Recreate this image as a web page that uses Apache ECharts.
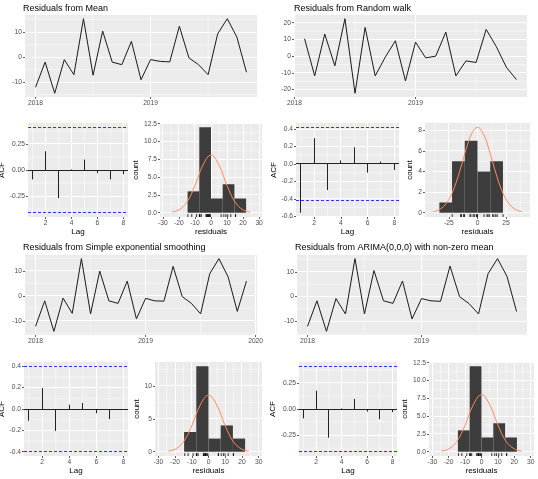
<!DOCTYPE html>
<html>
<head>
<meta charset="utf-8">
<title>Residual checks</title>
<style>
  html, body { margin: 0; padding: 0; background: #fff; }
  #box { width: 538px; height: 479px; }
</style>
</head>
<body>
<div id="box"></div>
<script src="https://cdn.jsdelivr.net/npm/echarts@6/dist/echarts.min.js"></script>
<script>
// monthly residuals, start = months after Jan 2018
var meanStart = 0;
var meanResid = [-12, -2, -14.4, -1, -7, 15.3, -7.2, 10.4, -2, -3, 6.3, -9, -1, -1.7, -1.9, 12.3, -0.3, -3, -7, 9.3, 15.3, 8, -6];
var rwStart = 1;
var rwResid = [10.4, -11.8, 13.2, -5.8, 22.4, -22.2, 17.2, -11.8, -0.6, 9.2, -14.8, 8.4, -1, 0, 14.4, -11.8, -2.8, -3.8, 16, 5.8, -6.6, -14];
var sesStart = 0;
var sesResid = [-12.2, -2, -14.2, -0.9, -7, 14.9, -7.2, 9.9, -2, -3, 5.9, -9.2, -1, -2, -2.1, 11.8, -0.3, -3, -7.2, 8.9, 14.9, 7.6, -6.2, 5.9];
var arimaStart = 0;
var arimaResid = [-12, -1.7, -14, -0.8, -7, 15.3, -7, 10.5, -1.7, -2.7, 6.3, -9, -0.8, -1.7, -1.9, 12.3, 0, -2.8, -7, 9.2, 15.3, 8.1, -6];

// autocorrelations
var lags = [1, 2, 3, 4, 5, 6, 7, 8];
var meanAcf = [-0.09, 0.18, -0.27, 0.005, 0.10, -0.03, -0.09, -0.04];
var rwAcf = [-0.56, 0.295, -0.30, 0.04, 0.19, -0.10, 0.027, -0.07];
var sesAcf = [-0.11, 0.195, -0.205, 0.04, 0.057, -0.04, -0.095, -0.005];
var arimaAcf = [-0.09, 0.175, -0.275, 0.005, 0.097, -0.025, -0.097, -0.03];
var meanCi = 0.41, rwCi = 0.42, sesCi = 0.40, arimaCi = 0.41;

// histograms: bin edges and counts
var meanBins = [-14.6, -7.3, 0, 7.3, 14.6, 21.9];
var meanCounts = [3, 12, 2, 4, 2];
var rwBins = [-33.4, -22.3, -11.15, 0, 11.15, 22.3];
var rwCounts = [1, 5, 7, 4, 5];
var sesBins = [-14.6, -7.3, 0, 7.3, 14.6, 21.9];
var sesCounts = [3, 13, 2, 4, 2];
var arimaBins = [-14.4, -7.2, 0, 7.2, 14.4, 21.6];
var arimaCounts = [3, 12, 2, 4, 2];

// normal curves
var meanCurveX = [-24.5, -20, -15, -10, -5, 0, 5, 10, 15, 20, 24.5];
var meanCurveY = [0.09, 0.4, 1.5, 3.8, 6.7, 8.1, 6.7, 3.8, 1.5, 0.4, 0.09];
var rwCurveX = [-39, -35, -30, -25, -20, -15, -10, -5, 0, 5, 10, 15, 20, 25, 30, 35, 39];
var rwCurveY = [0.09, 0.22, 0.58, 1.31, 2.54, 4.26, 6.17, 7.7, 8.3, 7.7, 6.17, 4.26, 2.54, 1.31, 0.58, 0.22, 0.09];
var sesCurveX = [-24, -20, -15, -10, -5, 0, 5, 10, 15, 20, 24];
var sesCurveY = [0.1, 0.38, 1.48, 3.94, 7.08, 8.6, 7.08, 3.94, 1.48, 0.38, 0.1];
var arimaCurveX = [-24.5, -20, -15, -10, -5, 0, 5, 10, 15, 20, 24.5];
var arimaCurveY = [0.09, 0.4, 1.45, 3.75, 6.6, 8.0, 6.6, 3.75, 1.45, 0.4, 0.09];

// tick labels
var yearTicks = [2018, 2019];
var yearTicksSes = [2018, 2019, 2020];
var lagTicks = [2, 4, 6, 8];
var resTicks = [-10, 0, 10];
var rwResTicks = [-20, -10, 0, 10, 20];
var acfTicksQuarter = [-0.25, 0, 0.25];
var acfTicksFifth = [-0.4, -0.2, 0, 0.2, 0.4];
var rwAcfTicks = [-0.6, -0.4, -0.2, 0, 0.2, 0.4];
var countTicks = [0, 2.5, 5, 7.5, 10, 12.5];
var rwCountTicks = [0, 2, 4, 6, 8];
var sesCountTicks = [0, 5, 10];
var residualTicks = [-30, -20, -10, 0, 10, 20, 30];
var rwResidualTicks = [-25, 0, 25];

var panels = [
  { title: 'Residuals from Mean', titlePos: [23, 4],
    resid: meanResid, start: meanStart, years: yearTicks, resTicks: resTicks,
    acf: meanAcf, ci: meanCi, acfTicks: acfTicksQuarter, acfDigits: 2,
    bins: meanBins, counts: meanCounts, curveX: meanCurveX, curveY: meanCurveY,
    countTicks: countTicks, countDigits: 1, histTicks: residualTicks, histRange: [-31.8, 31.8],
    timeBox: [25, 15, 232, 82], acfBox: [28, 123, 100, 94], histBox: [160, 123, 102, 94],
    acfGap: 19, countGap: 15 },
  { title: 'Residuals from Random walk', titlePos: [294, 4],
    resid: rwResid, start: rwStart, years: yearTicks, resTicks: rwResTicks,
    acf: rwAcf, ci: rwCi, acfTicks: rwAcfTicks, acfDigits: 1,
    bins: rwBins, counts: rwCounts, curveX: rwCurveX, curveY: rwCurveY,
    countTicks: rwCountTicks, countDigits: 0, histTicks: rwResidualTicks, histRange: [-46, 46],
    timeBox: [294, 15, 233, 82], acfBox: [296, 123, 103, 94], histBox: [425, 123, 105, 94],
    acfGap: 16, countGap: 11 },
  { title: 'Residuals from Simple exponential smoothing', titlePos: [23, 243],
    resid: sesResid, start: sesStart, years: yearTicksSes, resTicks: resTicks,
    acf: sesAcf, ci: sesCi, acfTicks: acfTicksFifth, acfDigits: 1,
    bins: sesBins, counts: sesCounts, curveX: sesCurveX, curveY: sesCurveY,
    countTicks: sesCountTicks, countDigits: 0, histTicks: residualTicks, histRange: [-32, 32],
    timeBox: [25, 255, 232, 80], acfBox: [24, 362, 104, 94], histBox: [155, 362, 107, 94],
    acfGap: 15, countGap: 9 },
  { title: 'Residuals from ARIMA(0,0,0) with non-zero mean', titlePos: [295, 243],
    resid: arimaResid, start: arimaStart, years: yearTicks, resTicks: resTicks,
    acf: arimaAcf, ci: arimaCi, acfTicks: acfTicksQuarter, acfDigits: 2,
    bins: arimaBins, counts: arimaCounts, curveX: arimaCurveX, curveY: arimaCurveY,
    countTicks: countTicks, countDigits: 1, histTicks: residualTicks, histRange: [-32, 32],
    timeBox: [297, 255, 230, 80], acfBox: [299, 362, 98, 94], histBox: [429, 362, 105, 94],
    acfGap: 20, countGap: 17 }
];

var FONT = 'Liberation Sans, Arial, sans-serif';
var grids = [], xAxes = [], yAxes = [], series = [], titles = [];

function padRange(lo, hi) {
  var d = (hi - lo) * 0.05;
  return [lo - d, hi + d];
}

// ggplot style minor breaks: halfway between majors, kept inside the panel
function minorsOf(t, lo, hi) {
  var step = t[1] - t[0], out = [];
  for (var v = t[0] - step / 2; v <= t[t.length - 1] + step / 2 + 1e-9; v += step) {
    if (v > lo && v < hi) out.push(+v.toFixed(4));
  }
  return out;
}

// put a 1px line on a pixel centre so it stays crisp
function snap(c, w) {
  return w >= 1 ? Math.floor(c) + 0.5 : c;
}

function addGrid(box) {
  grids.push({
    left: box[0], top: box[1], width: box[2], height: box[3],
    show: true, backgroundColor: '#ebebeb', borderWidth: 0,
    containLabel: false, outerBoundsMode: 'none'
  });
  return grids.length - 1;
}

function addAxis(list, gi, range, ticks, digits, isX, name, gap) {
  var ax = {
    type: 'value', gridIndex: gi, min: range[0], max: range[1],
    position: isX ? 'bottom' : 'left',
    axisLine: { show: false, onZero: false },
    axisTick: { show: true, length: 2, customValues: ticks, lineStyle: { color: '#333333', width: 0.8 } },
    axisLabel: {
      customValues: ticks, margin: 3, fontSize: 6.7, color: '#4d4d4d', fontFamily: FONT,
      formatter: function (v) { return Number(v).toFixed(digits); }
    },
    splitLine: { show: false }
  };
  if (name) {
    ax.name = name;
    ax.nameLocation = 'middle';
    ax.nameGap = gap;
    ax.nameTextStyle = { fontSize: 8, color: '#000', fontFamily: FONT };
  }
  list.push(ax);
  return list.length - 1;
}

// horizontal or vertical lines across a panel at given axis values
function addRules(xi, yi, xr, yr, vals, vertical, style) {
  series.push({
    type: 'custom', xAxisIndex: xi, yAxisIndex: yi, silent: true,
    data: vals.map(function (v) { return vertical ? [v, yr[0]] : [xr[0], v]; }),
    renderItem: function (params, api) {
      var cs = params.coordSys;
      var p = api.coord([api.value(0), api.value(1)]);
      var w = style.lineWidth;
      var shape = vertical
        ? { x1: snap(p[0], w), y1: cs.y, x2: snap(p[0], w), y2: cs.y + cs.height }
        : { x1: cs.x, y1: snap(p[1], w), x2: cs.x + cs.width, y2: snap(p[1], w) };
      return { type: 'line', shape: shape, style: echarts.util.extend({ fill: null }, style) };
    }
  });
}

// white panel grid (major + minor) drawn as the first layer of a panel
function addGridLines(xi, yi, xr, yr, xt, yt) {
  var inX = xt.filter(function (v) { return v >= xr[0] && v <= xr[1]; });
  var inY = yt.filter(function (v) { return v >= yr[0] && v <= yr[1]; });
  addRules(xi, yi, xr, yr, minorsOf(xt, xr[0], xr[1]), true, { stroke: '#ffffff', lineWidth: 0.5 });
  addRules(xi, yi, xr, yr, minorsOf(yt, yr[0], yr[1]), false, { stroke: '#ffffff', lineWidth: 0.5 });
  addRules(xi, yi, xr, yr, inX, true, { stroke: '#ffffff', lineWidth: 1 });
  addRules(xi, yi, xr, yr, inY, false, { stroke: '#ffffff', lineWidth: 1 });
}

panels.forEach(function (p) {
  titles.push({
    text: p.title, left: p.titlePos[0], top: p.titlePos[1], padding: 0,
    textStyle: { fontSize: 9, fontWeight: 'normal', color: '#000', fontFamily: FONT }
  });

  // time plot
  var pts = p.resid.map(function (v, i) { return [2018 + (p.start + i) / 12, v]; });
  var xs = pts.map(function (d) { return d[0]; });
  var g = addGrid(p.timeBox);
  var xr = padRange(Math.min.apply(null, xs), Math.max.apply(null, xs));
  var yr = padRange(Math.min.apply(null, p.resid), Math.max.apply(null, p.resid));
  var xi = addAxis(xAxes, g, xr, p.years, 0, true);
  var yi = addAxis(yAxes, g, yr, p.resTicks, 0, false);
  addGridLines(xi, yi, xr, yr, p.years, p.resTicks);
  series.push({
    type: 'line', xAxisIndex: xi, yAxisIndex: yi, data: pts,
    showSymbol: false, symbol: 'none', silent: true,
    lineStyle: { color: '#1a1a1a', width: 1 }
  });

  // ACF: zero line, blue dashed bounds, then the lag spikes
  g = addGrid(p.acfBox);
  var aLo = Math.min(Math.min.apply(null, p.acf), -p.ci);
  var aHi = Math.max(Math.max.apply(null, p.acf), p.ci);
  xr = padRange(1, 8);
  yr = padRange(aLo, aHi);
  xi = addAxis(xAxes, g, xr, lagTicks, 0, true, 'Lag', 10);
  yi = addAxis(yAxes, g, yr, p.acfTicks, p.acfDigits, false, 'ACF', p.acfGap);
  addGridLines(xi, yi, xr, yr, lagTicks, p.acfTicks);
  addRules(xi, yi, xr, yr, [0], false, { stroke: '#222222', lineWidth: 1 });
  addRules(xi, yi, xr, yr, [p.ci, -p.ci], false,
           { stroke: '#3030ff', lineWidth: 1, lineDash: [3, 2] });
  series.push({
    type: 'custom', xAxisIndex: xi, yAxisIndex: yi, silent: true,
    data: lags.map(function (l, i) { return [l, p.acf[i]]; }),
    renderItem: function (params, api) {
      var a = api.coord([api.value(0), 0]);
      var b = api.coord([api.value(0), api.value(1)]);
      var x = snap(a[0], 1);
      return { type: 'line', shape: { x1: x, y1: a[1], x2: x, y2: b[1] },
               style: { stroke: '#222222', lineWidth: 1 } };
    }
  });

  // histogram with normal curve and rug
  g = addGrid(p.histBox);
  var cHi = Math.max(Math.max.apply(null, p.counts), Math.max.apply(null, p.curveY));
  xr = p.histRange;
  yr = padRange(0, cHi);
  xi = addAxis(xAxes, g, xr, p.histTicks, 0, true, 'residuals', 10);
  yi = addAxis(yAxes, g, yr, p.countTicks, p.countDigits, false, 'count', p.countGap);
  addGridLines(xi, yi, xr, yr, p.histTicks, p.countTicks);
  series.push({
    type: 'custom', xAxisIndex: xi, yAxisIndex: yi, silent: true,
    data: p.counts.map(function (c, i) { return [p.bins[i], p.bins[i + 1], c]; }),
    renderItem: function (params, api) {
      var a = api.coord([api.value(0), api.value(2)]);
      var b = api.coord([api.value(1), 0]);
      return { type: 'rect', shape: { x: a[0], y: a[1], width: b[0] - a[0], height: b[1] - a[1] },
               style: { fill: '#3d3d3d' } };
    }
  });
  series.push({
    type: 'line', xAxisIndex: xi, yAxisIndex: yi, silent: true,
    data: p.curveX.map(function (x, i) { return [x, p.curveY[i]]; }),
    smooth: 0.4, showSymbol: false, symbol: 'none',
    lineStyle: { color: '#ff8a62', width: 1 }
  });
  series.push({
    type: 'custom', xAxisIndex: xi, yAxisIndex: yi, silent: true,
    data: p.resid.map(function (v) { return [v, 0]; }),
    renderItem: function (params, api) {
      var cs = params.coordSys;
      var x = api.coord([api.value(0), 0])[0];
      var yb = cs.y + cs.height;
      return { type: 'line', shape: { x1: x, y1: yb, x2: x, y2: yb - 0.03 * cs.height },
               style: { stroke: '#000000', lineWidth: 0.8 } };
    }
  });
});

var myChart = echarts.init(document.getElementById('box'));
myChart.setOption({
  animation: false,
  backgroundColor: '#ffffff',
  textStyle: { fontFamily: FONT },
  title: titles,
  grid: grids,
  xAxis: xAxes,
  yAxis: yAxes,
  series: series
});
</script>
</body>
</html>
